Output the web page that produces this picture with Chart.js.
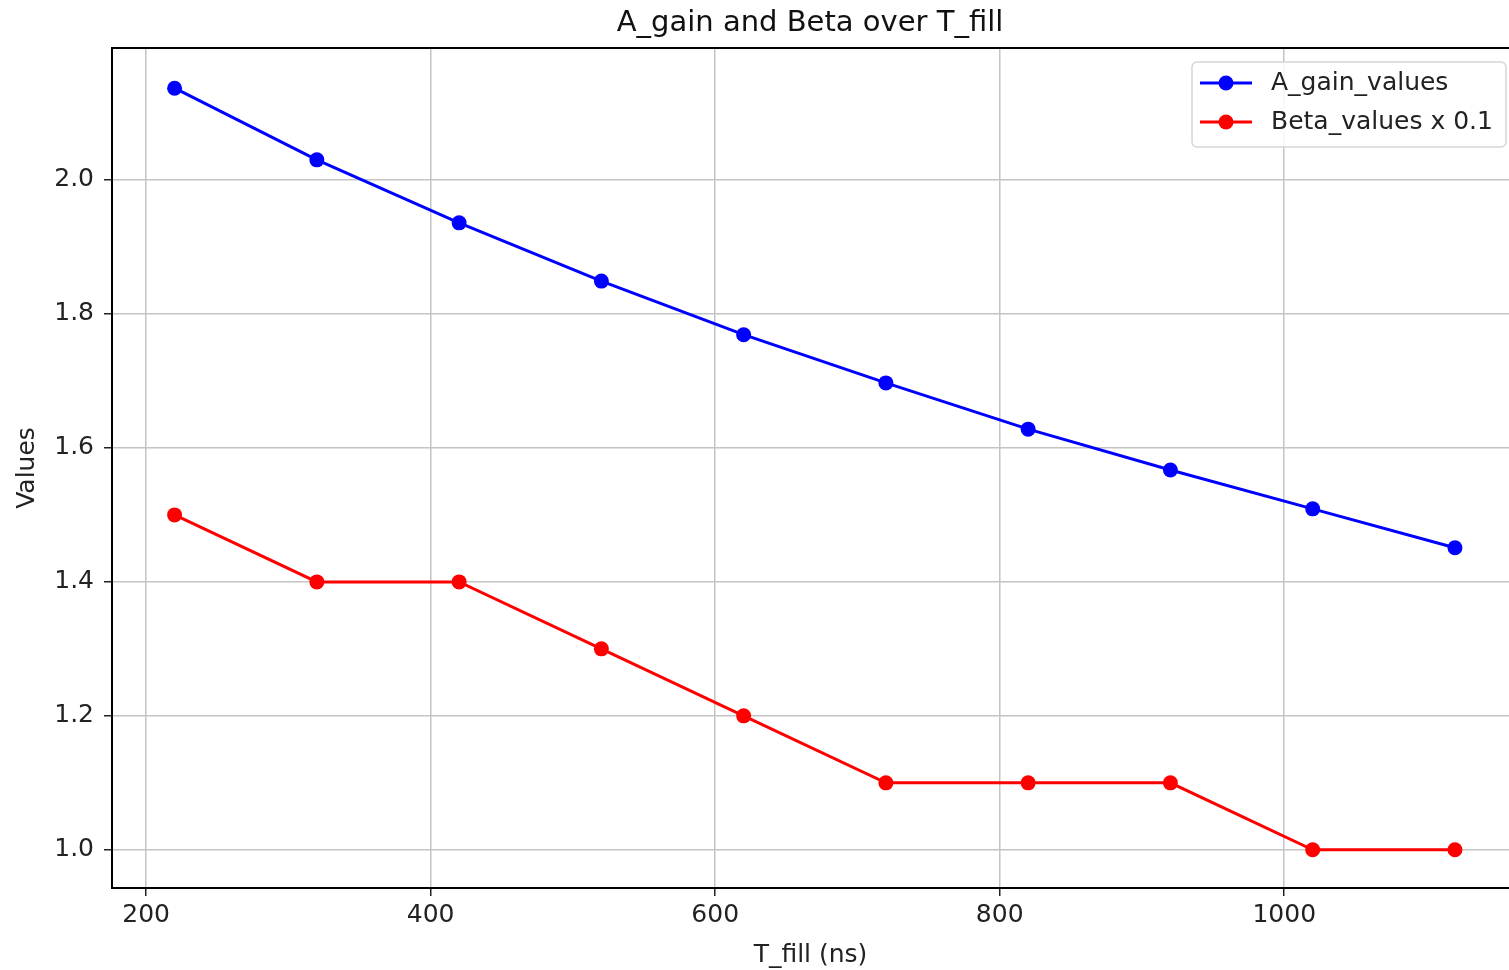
<!DOCTYPE html>
<html>
<head>
<meta charset="utf-8">
<title>A_gain and Beta over T_fill</title>
<script src="https://cdn.jsdelivr.net/npm/chart.js@4"></script>
<style>
  html, body { margin: 0; padding: 0; background: #fff; overflow: hidden; }
  #wrap { width: 1509px; height: 970px; }
</style>
</head>
<body>
<div id="wrap"><canvas id="grafico"></canvas></div>
<script>
// values
const tFill = [220, 320, 420, 520, 620, 720, 820, 920, 1020, 1120];
const aGainValues = [2.137, 2.030, 1.936, 1.849, 1.769, 1.697, 1.628, 1.567, 1.509, 1.451];
const betaValuesScaled = [1.5, 1.4, 1.4, 1.3, 1.2, 1.1, 1.1, 1.1, 1.0, 1.0];
const xTicks = [200, 400, 600, 800, 1000];
const yTicks = [1.0, 1.2, 1.4, 1.6, 1.8, 2.0];
const seriesNames = ['A_gain_values', 'Beta_values x 0.1'];
const seriesColors = ['#0000ff', '#ff0000'];

const FONT = '"DejaVu Sans", sans-serif';

// title, top frame line (right side is cut off in the original) and legend
const extras = {
  id: 'extras',
  afterDraw(chart) {
    const { ctx, chartArea: a } = chart;
    ctx.save();
    ctx.strokeStyle = '#000';
    ctx.lineWidth = 2;
    ctx.beginPath();
    ctx.moveTo(a.left, a.top);
    ctx.lineTo(a.right + 5, a.top);
    ctx.stroke();

    ctx.fillStyle = '#111';
    ctx.font = '29px ' + FONT;
    ctx.textAlign = 'center';
    ctx.textBaseline = 'middle';
    ctx.fillText('A_gain and Beta over T_fill', 810, 23);

    // legend
    const bx = 1192, by = 62, bw = 314, bh = 85;
    ctx.fillStyle = 'rgba(255,255,255,0.85)';
    ctx.strokeStyle = '#d6d6d6';
    ctx.lineWidth = 1.5;
    ctx.beginPath();
    ctx.roundRect(bx, by, bw, bh, 5);
    ctx.fill();
    ctx.stroke();
    ctx.font = '25px ' + FONT;
    ctx.textAlign = 'left';
    seriesNames.forEach((name, i) => {
      const y = 83 + i * 39;
      ctx.strokeStyle = seriesColors[i];
      ctx.lineWidth = 3;
      ctx.beginPath();
      ctx.moveTo(1200, y);
      ctx.lineTo(1252, y);
      ctx.stroke();
      ctx.fillStyle = seriesColors[i];
      ctx.beginPath();
      ctx.arc(1226, y, 7.5, 0, Math.PI * 2);
      ctx.fill();
      ctx.fillStyle = '#222';
      ctx.fillText(name, 1271, y);
    });
    ctx.restore();
  }
};

function makeData(values) {
  return tFill.map((x, i) => ({ x: x, y: values[i] }));
}

const ctx = document.getElementById('grafico').getContext('2d');

new Chart(ctx, {
  type: 'line',
  data: {
    datasets: [aGainValues, betaValuesScaled].map((vals, i) => ({
      label: seriesNames[i],
      data: makeData(vals),
      borderColor: seriesColors[i],
      backgroundColor: seriesColors[i],
      borderWidth: 3,
      pointRadius: 7.5,
      pointHoverRadius: 7.5,
      pointBorderWidth: 0,
      tension: 0,
      fill: false
    }))
  },
  options: {
    responsive: true,
    maintainAspectRatio: false,
    animation: false,
    layout: { autoPadding: false, padding: { top: 48, left: 0, right: 0, bottom: 0 } },
    plugins: {
      legend: { display: false },
      title: { display: false },
      tooltip: { enabled: false }
    },
    scales: {
      x: {
        type: 'linear',
        min: 176,
        max: 1158,
        afterBuildTicks: s => { s.ticks = xTicks.map(v => ({ value: v })); },
        afterFit: s => { s.height = 82; },
        ticks: {
          color: '#222',
          font: { family: FONT, size: 25 },
          padding: 4,
          maxRotation: 0,
          callback: v => String(v)
        },
        grid: { color: '#c4c4c4', lineWidth: 1.5, tickLength: 8, tickColor: '#222', tickWidth: 1.5 },
        border: { display: true, color: '#000', width: 2 },
        title: {
          display: true,
          text: 'T_fill (ns)',
          color: '#222',
          font: { family: FONT, size: 25 },
          padding: { top: 0, bottom: 0 }
        }
      },
      y: {
        type: 'linear',
        min: 0.943,
        max: 2.197,
        afterBuildTicks: s => { s.ticks = yTicks.map(v => ({ value: v })); },
        afterFit: s => { s.width = 112; },
        ticks: {
          color: '#222',
          font: { family: FONT, size: 25 },
          padding: 10,
          callback: v => v.toFixed(1)
        },
        grid: { color: '#c4c4c4', lineWidth: 1.5, tickLength: 8, tickColor: '#222', tickWidth: 1.5 },
        border: { display: true, color: '#000', width: 2 },
        title: {
          display: true,
          text: 'Values',
          color: '#222',
          font: { family: FONT, size: 25 },
          padding: { top: 12, bottom: 0 }
        }
      }
    }
  },
  plugins: [extras]
});
</script>
</body>
</html>
